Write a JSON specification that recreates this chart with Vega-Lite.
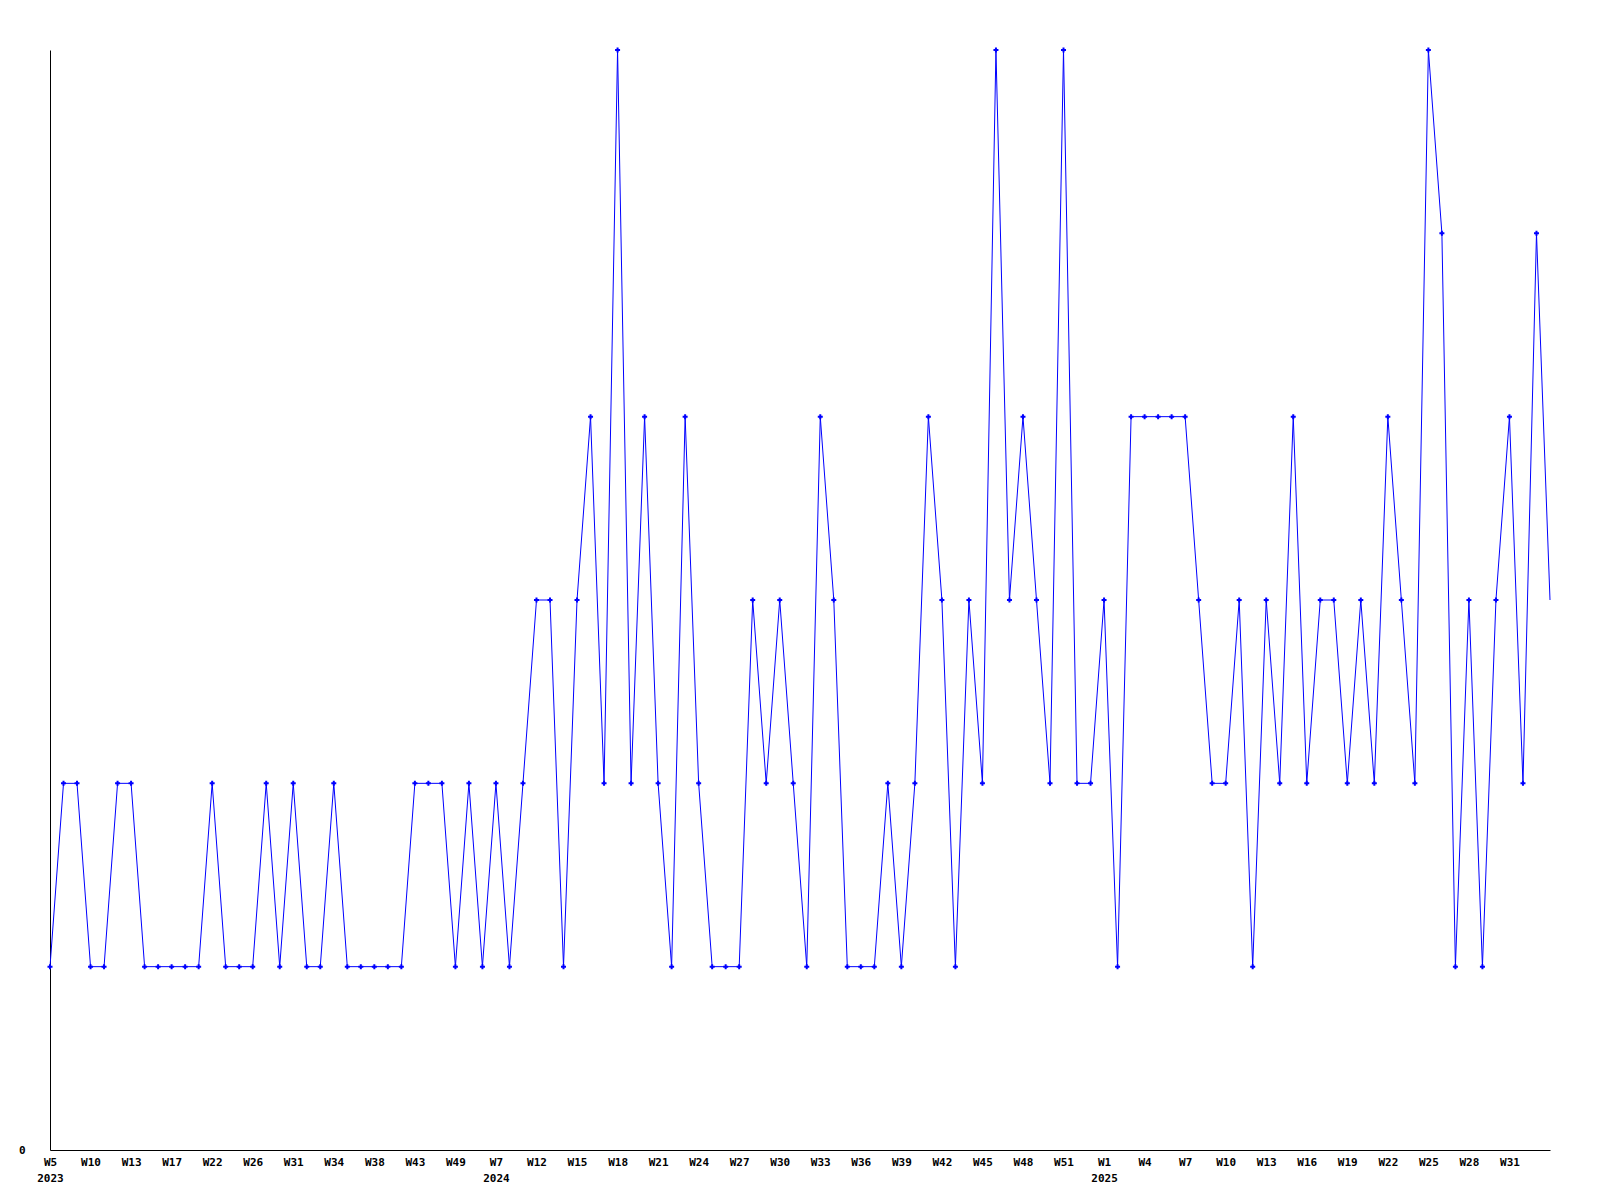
{
  "$schema": "https://vega.github.io/schema/vega-lite/v6.json",
  "autosize": {"type": "none"},
  "padding": {"left": 50, "top": 50, "right": 50, "bottom": 50},
  "width": 1500,
  "height": 1100,
  "background": "white",
  "config": {
    "view": {"stroke": null},
    "axis": {
      "labelFont": "DejaVu Sans Mono",
      "labelFontWeight": "bold",
      "labelFontSize": 11,
      "labelColor": "black",
      "domainColor": "black",
      "domainWidth": 1,
      "ticks": false,
      "tickSize": 0,
      "grid": false,
      "title": null
    }
  },
  "data": {
    "values": [
      {"w": "2023-W05", "v": 1}, {"w": "2023-W06", "v": 2}, {"w": "2023-W08", "v": 2}, {"w": "2023-W10", "v": 1},
      {"w": "2023-W11", "v": 1}, {"w": "2023-W12", "v": 2}, {"w": "2023-W13", "v": 2}, {"w": "2023-W14", "v": 1},
      {"w": "2023-W15", "v": 1}, {"w": "2023-W17", "v": 1}, {"w": "2023-W18", "v": 1}, {"w": "2023-W20", "v": 1},
      {"w": "2023-W22", "v": 2}, {"w": "2023-W23", "v": 1}, {"w": "2023-W24", "v": 1}, {"w": "2023-W26", "v": 1},
      {"w": "2023-W27", "v": 2}, {"w": "2023-W29", "v": 1}, {"w": "2023-W31", "v": 2}, {"w": "2023-W32", "v": 1},
      {"w": "2023-W33", "v": 1}, {"w": "2023-W34", "v": 2}, {"w": "2023-W35", "v": 1}, {"w": "2023-W36", "v": 1},
      {"w": "2023-W38", "v": 1}, {"w": "2023-W39", "v": 1}, {"w": "2023-W41", "v": 1}, {"w": "2023-W43", "v": 2},
      {"w": "2023-W45", "v": 2}, {"w": "2023-W47", "v": 2}, {"w": "2023-W49", "v": 1}, {"w": "2023-W51", "v": 2},
      {"w": "2024-W03", "v": 1}, {"w": "2024-W07", "v": 2}, {"w": "2024-W08", "v": 1}, {"w": "2024-W10", "v": 2},
      {"w": "2024-W12", "v": 3}, {"w": "2024-W13", "v": 3}, {"w": "2024-W14", "v": 1}, {"w": "2024-W15", "v": 3},
      {"w": "2024-W16", "v": 4}, {"w": "2024-W17", "v": 2}, {"w": "2024-W18", "v": 6}, {"w": "2024-W19", "v": 2},
      {"w": "2024-W20", "v": 4}, {"w": "2024-W21", "v": 2}, {"w": "2024-W22", "v": 1}, {"w": "2024-W23", "v": 4},
      {"w": "2024-W24", "v": 2}, {"w": "2024-W25", "v": 1}, {"w": "2024-W26", "v": 1}, {"w": "2024-W27", "v": 1},
      {"w": "2024-W28", "v": 3}, {"w": "2024-W29", "v": 2}, {"w": "2024-W30", "v": 3}, {"w": "2024-W31", "v": 2},
      {"w": "2024-W32", "v": 1}, {"w": "2024-W33", "v": 4}, {"w": "2024-W34", "v": 3}, {"w": "2024-W35", "v": 1},
      {"w": "2024-W36", "v": 1}, {"w": "2024-W37", "v": 1}, {"w": "2024-W38", "v": 2}, {"w": "2024-W39", "v": 1},
      {"w": "2024-W40", "v": 2}, {"w": "2024-W41", "v": 4}, {"w": "2024-W42", "v": 3}, {"w": "2024-W43", "v": 1},
      {"w": "2024-W44", "v": 3}, {"w": "2024-W45", "v": 2}, {"w": "2024-W46", "v": 6}, {"w": "2024-W47", "v": 3},
      {"w": "2024-W48", "v": 4}, {"w": "2024-W49", "v": 3}, {"w": "2024-W50", "v": 2}, {"w": "2024-W51", "v": 6},
      {"w": "2024-W52", "v": 2}, {"w": "2024-W53", "v": 2}, {"w": "2025-W01", "v": 3}, {"w": "2025-W02", "v": 1},
      {"w": "2025-W03", "v": 4}, {"w": "2025-W04", "v": 4}, {"w": "2025-W05", "v": 4}, {"w": "2025-W06", "v": 4},
      {"w": "2025-W07", "v": 4}, {"w": "2025-W08", "v": 3}, {"w": "2025-W09", "v": 2}, {"w": "2025-W10", "v": 2},
      {"w": "2025-W11", "v": 3}, {"w": "2025-W12", "v": 1}, {"w": "2025-W13", "v": 3}, {"w": "2025-W14", "v": 2},
      {"w": "2025-W15", "v": 4}, {"w": "2025-W16", "v": 2}, {"w": "2025-W17", "v": 3}, {"w": "2025-W18", "v": 3},
      {"w": "2025-W19", "v": 2}, {"w": "2025-W20", "v": 3}, {"w": "2025-W21", "v": 2}, {"w": "2025-W22", "v": 4},
      {"w": "2025-W23", "v": 3}, {"w": "2025-W24", "v": 2}, {"w": "2025-W25", "v": 6}, {"w": "2025-W26", "v": 5},
      {"w": "2025-W27", "v": 1}, {"w": "2025-W28", "v": 3}, {"w": "2025-W29", "v": 1}, {"w": "2025-W30", "v": 3},
      {"w": "2025-W31", "v": 4}, {"w": "2025-W32", "v": 2}, {"w": "2025-W33", "v": 5}, {"w": "2025-W34", "v": 3}
    ]
  },
  "encoding": {
    "x": {
      "field": "w",
      "type": "ordinal",
      "sort": null,
      "scale": {"type": "point", "padding": 0},
      "axis": {
        "values": ["2023-W05","2023-W10","2023-W13","2023-W17","2023-W22","2023-W26","2023-W31","2023-W34","2023-W38","2023-W43","2023-W49",
                   "2024-W07","2024-W12","2024-W15","2024-W18","2024-W21","2024-W24","2024-W27","2024-W30","2024-W33","2024-W36","2024-W39","2024-W42","2024-W45","2024-W48","2024-W51",
                   "2025-W01","2025-W04","2025-W07","2025-W10","2025-W13","2025-W16","2025-W19","2025-W22","2025-W25","2025-W28","2025-W31"],
        "labelAngle": 0,
        "labelPadding": 6,
        "labelDx": -2,
        "labelLineHeight": 16,
        "labelExpr": "indexof(['2023-W05','2024-W07','2025-W01'], datum.value) >= 0 ? ['W' + toNumber(substring(datum.value, 6)), substring(datum.value, 0, 4)] : 'W' + toNumber(substring(datum.value, 6))"
      }
    },
    "y": {
      "field": "v",
      "type": "quantitative",
      "scale": {"domain": [0, 6], "nice": false, "zero": true},
      "axis": {"values": [0], "labelPadding": 25, "labelBaseline": "middle"}
    }
  },
  "layer": [
    {"mark": {"type": "line", "color": "#0000ff", "strokeWidth": 1}},
    {
      "transform": [{"filter": "datum.w != '2025-W34'"}],
      "mark": {"type": "point", "shape": "cross", "filled": true, "color": "#0000ff", "size": 25, "opacity": 1}
    }
  ]
}
